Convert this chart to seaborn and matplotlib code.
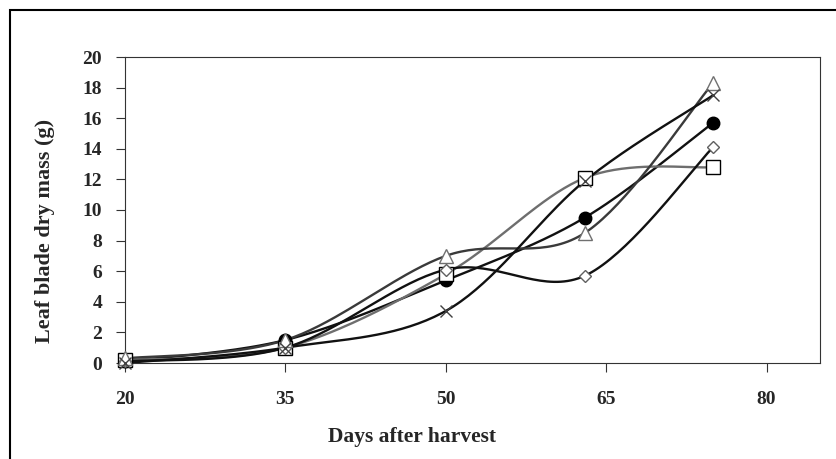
import numpy as np
import pandas as pd
import matplotlib
matplotlib.use("Agg")
import matplotlib.pyplot as plt
import seaborn as sns
from matplotlib.patches import Rectangle

# values
days = [20, 35, 50, 63, 75]
triangle = [0.3, 1.5, 7.0, 8.5, 18.3]
cross = [0.0, 1.0, 3.4, 11.9, 17.5]
circle = [0.1, 1.5, 5.4, 9.5, 15.7]
diamond = [0.1, 1.0, 6.1, 5.7, 14.1]
square = [0.2, 1.0, 5.8, 12.1, 12.8]

x_ticks = [20, 35, 50, 65, 80]
y_ticks = list(range(0, 21, 2))

# name, values, marker, marker size, face, edge, line colour
series = [
    ("circle", circle, "o", 9, "black", "black", "#111111"),
    ("square", square, "s", 10, "white", "black", "#6e6e6e"),
    ("diamond", diamond, "D", 6.5, "white", "#606060", "#111111"),
    ("triangle", triangle, "^", 10, "white", "#707070", "#3a3a3a"),
    ("cross", cross, "x", 9, "none", "#404040", "#111111"),
]


def smooth(x, y, n=40):
    # Excel style smoothed line (Catmull-Rom as cubic Bezier segments)
    p = np.column_stack([x, y]).astype(float)
    ext = np.vstack([p[0], p, p[-1]])
    t = np.linspace(0, 1, n)[:, None]
    out = []
    for i in range(len(p) - 1):
        p0, p1, p2, p3 = ext[i], ext[i + 1], ext[i + 2], ext[i + 3]
        c1 = p1 + (p2 - p0) / 6
        c2 = p2 - (p3 - p1) / 6
        seg = ((1 - t) ** 3) * p1 + 3 * ((1 - t) ** 2) * t * c1 + 3 * (1 - t) * t ** 2 * c2 + t ** 3 * p2
        out.append(seg if i == 0 else seg[1:])
    out = np.vstack(out)
    return pd.DataFrame({"x": out[:, 0], "y": out[:, 1]})


sns.set_style("white")
plt.rcParams["font.family"] = ["Liberation Serif", "DejaVu Serif"]
plt.rcParams["font.weight"] = "bold"

fig = plt.figure(figsize=(8.36, 4.59), dpi=100)
ax = fig.add_axes([125 / 836, 1 - 363 / 459, 695 / 836, 306 / 459])

for name, vals, mk, ms, face, edge, lc in series:
    curve = smooth(days, vals)
    sns.lineplot(data=curve, x="x", y="y", sort=False, estimator=None,
                 color=lc, linewidth=1.7, ax=ax, zorder=2)

for name, vals, mk, ms, face, edge, lc in series:
    ax.plot(days, vals, linestyle="none", marker=mk, markersize=ms,
            markerfacecolor=face, markeredgecolor=edge, markeredgewidth=1.0,
            zorder=3, clip_on=False)

ax.set_xlim(20, 85)
ax.set_ylim(0, 20)
ax.set_xticks(x_ticks)
ax.set_yticks(y_ticks)
ax.tick_params(axis="both", direction="out", length=6.5, width=0.8, color="#333333",
               labelsize=14, bottom=True, left=True)
ax.tick_params(axis="x", pad=14)
ax.tick_params(axis="y", pad=10)
for lab in ax.get_xticklabels() + ax.get_yticklabels():
    lab.set_fontweight("bold")

for sp in ax.spines.values():
    sp.set_color("#333333")
    sp.set_linewidth(0.8)

ax.set_xlabel("Days after harvest", fontsize=15.5, fontweight="bold")
ax.set_ylabel("Leaf blade dry mass (g)", fontsize=16, fontweight="bold")
ax.xaxis.set_label_coords(0.413, -0.21)
ax.yaxis.set_label_coords(-0.115, 0.431)
ax.yaxis.label.set_va("center")

# outer chart border (cut at the right and bottom edges)
fig.patches.append(Rectangle((10 / 836, -0.2), 1.0, 1.2 - 10 / 459, transform=fig.transFigure,
                             fill=False, edgecolor="black", linewidth=1.5))

fig.savefig("out.png", dpi=100)
